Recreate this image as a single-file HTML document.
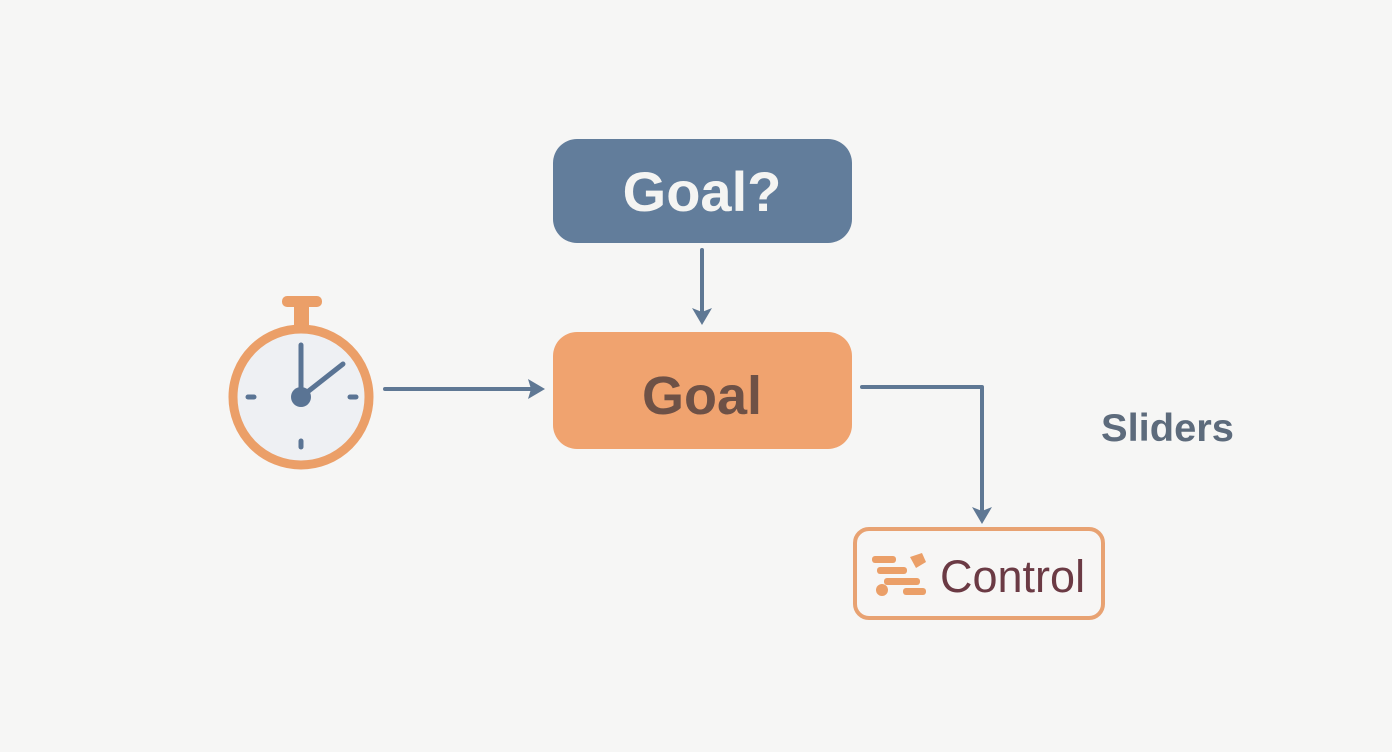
<!DOCTYPE html>
<html><head><style>body{margin:0;background:#f6f6f5}svg{display:block}</style></head><body>
<svg width="1392" height="752" viewBox="0 0 1392 752" xmlns="http://www.w3.org/2000/svg" font-family="Liberation Sans, sans-serif">
<rect width="1392" height="752" fill="#f6f6f5"/>
<rect x="553" y="139" width="299" height="104" rx="24" fill="#627d9b"/>
<text x="702" y="211" text-anchor="middle" font-size="56" font-weight="bold" fill="#f4f4f2">Goal?</text>
<rect x="553" y="332" width="299" height="117" rx="24" fill="#f0a36f"/>
<text x="702" y="414" text-anchor="middle" font-size="54" font-weight="bold" fill="#6e5146">Goal</text>
<rect x="855" y="529" width="248" height="89" rx="14" fill="#f7f6f5" stroke="#e8a272" stroke-width="4"/>
<text x="940" y="592" font-size="45" fill="#6b3a44">Control</text>
<g fill="#eb9f68">
<rect x="872" y="556" width="24" height="7" rx="3"/><rect x="877" y="567" width="30" height="7" rx="3"/>
<rect x="884" y="578" width="36" height="7" rx="3"/><rect x="903" y="588" width="23" height="7" rx="3"/>
<circle cx="882" cy="590" r="6"/><path d="M910 557 l12 -4 l4 9 l-10 6z"/>
</g>
<g stroke="#5f7894" stroke-width="4" fill="none" stroke-linecap="round" stroke-linejoin="round">
<line x1="385" y1="389" x2="538" y2="389"/>
<line x1="702" y1="250" x2="702" y2="318"/>
<polyline points="862,387 982,387 982,516"/>
</g>
<g fill="#5f7894">
<path d="M545 389 L528 379 L531 389 L528 399 Z"/>
<path d="M702 325 L692 308 L702 312 L712 308 Z"/>
<path d="M982 524 L972 507 L982 511 L992 507 Z"/>
</g>
<rect x="282" y="296" width="40" height="11" rx="5" fill="#eb9f68"/>
<rect x="294" y="303" width="15" height="22" fill="#eb9f68"/>
<circle cx="301" cy="397" r="68" fill="#eef0f3" stroke="#eb9f68" stroke-width="9"/>
<g stroke="#5a7494" stroke-linecap="round" fill="none">
<line x1="301" y1="397" x2="301" y2="345" stroke-width="5"/>
<line x1="301" y1="397" x2="343" y2="364" stroke-width="5"/>
<line x1="248" y1="397" x2="254" y2="397" stroke-width="5"/>
<line x1="350" y1="397" x2="356" y2="397" stroke-width="5"/>
<line x1="301" y1="441" x2="301" y2="447" stroke-width="5"/>
</g>
<circle cx="301" cy="397" r="10" fill="#5a7494"/>
<text x="1101" y="441" font-size="39" font-weight="bold" fill="#5d6b7c" textLength="133" lengthAdjust="spacingAndGlyphs">Sliders</text>
</svg>
</body></html>
